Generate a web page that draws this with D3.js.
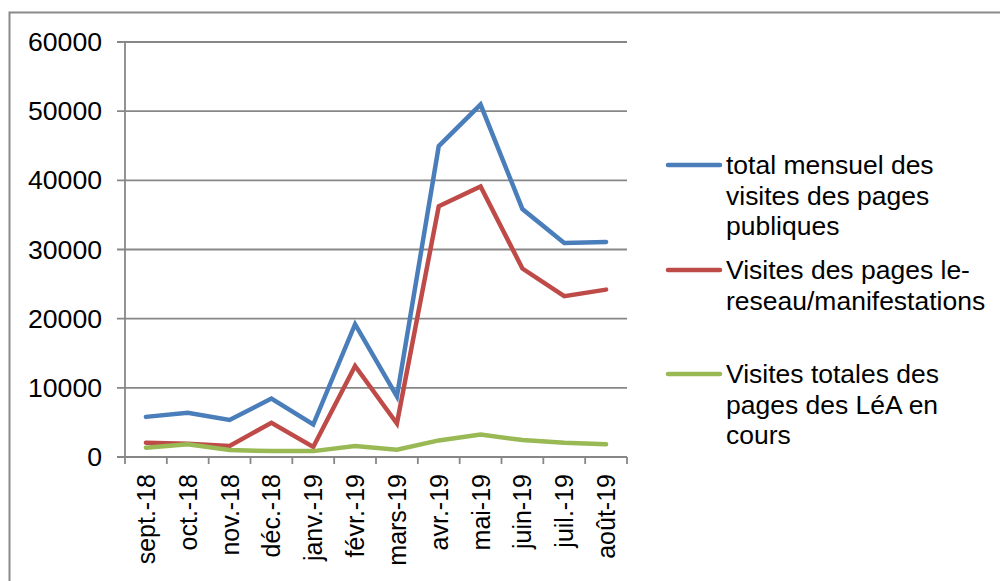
<!DOCTYPE html>
<html>
<head>
<meta charset="utf-8">
<script src="https://cdn.jsdelivr.net/npm/d3@7"></script>
<style>
  body { margin: 0; background: #fff; }
  svg { display: block; font-family: "Liberation Sans", Arial, sans-serif; }
</style>
</head>
<body>
<script>
// mois
const months = ["sept.-18", "oct.-18", "nov.-18", "déc.-18", "janv.-19", "févr.-19",
  "mars-19", "avr.-19", "mai-19", "juin-19", "juil.-19", "août-19"];

const totalPubliques = [5800, 6400, 5350, 8450, 4700, 19200, 8750, 44950, 50950, 35850, 30950, 31100];
const reseauManif = [2050, 1900, 1600, 4950, 1450, 13150, 4850, 36250, 39100, 27250, 23250, 24200];
const leaEnCours = [1350, 1850, 1000, 850, 850, 1600, 1050, 2400, 3250, 2450, 2050, 1850];

const yTicks = [0, 10000, 20000, 30000, 40000, 50000, 60000];

const seriesNames = [
  ["total mensuel des", "visites des pages", "publiques"],
  ["Visites des pages le-", "reseau/manifestations"],
  ["Visites totales des", "pages des LéA en", "cours"]
];
const colors = ["#4A7EBB", "#BE4B48", "#98B954"];

const W = 1000, H = 581;
const svg = d3.select("body").append("svg").attr("width", W).attr("height", H);

// cadre
svg.append("rect")
  .attr("x", 9.5).attr("y", 12.5)
  .attr("width", 1100).attr("height", 700)
  .attr("fill", "none").attr("stroke", "#8a8a8a").attr("stroke-width", 2);

var x = d3.scaleBand().domain(months).range([125, 627]);
var y = d3.scaleLinear().domain([0, 60000]).range([457, 42]);

// grille
svg.append("g")
  .selectAll("line")
  .data(yTicks)
  .enter()
  .append("line")
  .attr("x1", 117).attr("x2", 627)
  .attr("y1", d => y(d)).attr("y2", d => y(d))
  .attr("stroke", "#878787").attr("stroke-width", 1.8);

svg.append("line")
  .attr("x1", 125).attr("x2", 125)
  .attr("y1", y(60000)).attr("y2", y(0))
  .attr("stroke", "#878787").attr("stroke-width", 1.8);

// le texte de la reference est un peu etire en largeur
svg.append("g")
  .selectAll("text")
  .data(yTicks)
  .enter()
  .append("text")
  .attr("transform", d => "translate(102," + y(d) + ") scale(1.065,1)")
  .attr("dy", "0.36em")
  .attr("text-anchor", "end")
  .attr("font-size", 25)
  .attr("fill", "#000")
  .text(d => d);

// axe x
var xTickPos = months.map(m => x(m)).concat([x.range()[1]]);
svg.append("g")
  .selectAll("line")
  .data(xTickPos)
  .enter()
  .append("line")
  .attr("x1", d => d).attr("x2", d => d)
  .attr("y1", 457).attr("y2", 464)
  .attr("stroke", "#878787").attr("stroke-width", 1.8);

svg.append("g")
  .selectAll("text")
  .data(months)
  .enter()
  .append("text")
  .attr("transform", d => "translate(" + (x(d) + x.bandwidth() / 2) + ",474) rotate(-90)")
  .attr("dy", "0.36em")
  .attr("text-anchor", "end")
  .attr("font-size", 25)
  .attr("fill", "#000")
  .text(d => d);

// courbes
var line = d3.line()
  .x((d, i) => x(months[i]) + x.bandwidth() / 2)
  .y(d => y(d));

[totalPubliques, reseauManif, leaEnCours].forEach(function(serie, k) {
  svg.append("path")
    .datum(serie)
    .attr("d", line)
    .attr("fill", "none")
    .attr("stroke", colors[k])
    .attr("stroke-width", 4.5)
    .attr("stroke-linejoin", "miter")
    .attr("stroke-linecap", "round");
});

// legende
var legendY = [165, 270, 374];
seriesNames.forEach(function(lines, k) {
  var g = svg.append("g");
  g.append("line")
    .attr("x1", 668).attr("x2", 720)
    .attr("y1", legendY[k]).attr("y2", legendY[k])
    .attr("stroke", colors[k]).attr("stroke-width", 4.5)
    .attr("stroke-linecap", "round");
  g.selectAll("text")
    .data(lines)
    .enter()
    .append("text")
    .attr("transform", (d, i) => "translate(726," + (legendY[k] + i * 30.5) + ") scale(1.06,1)")
    .attr("dy", "0.36em")
    .attr("font-size", 25)
    .attr("fill", "#000")
    .text(d => d);
});
</script>
</body>
</html>
